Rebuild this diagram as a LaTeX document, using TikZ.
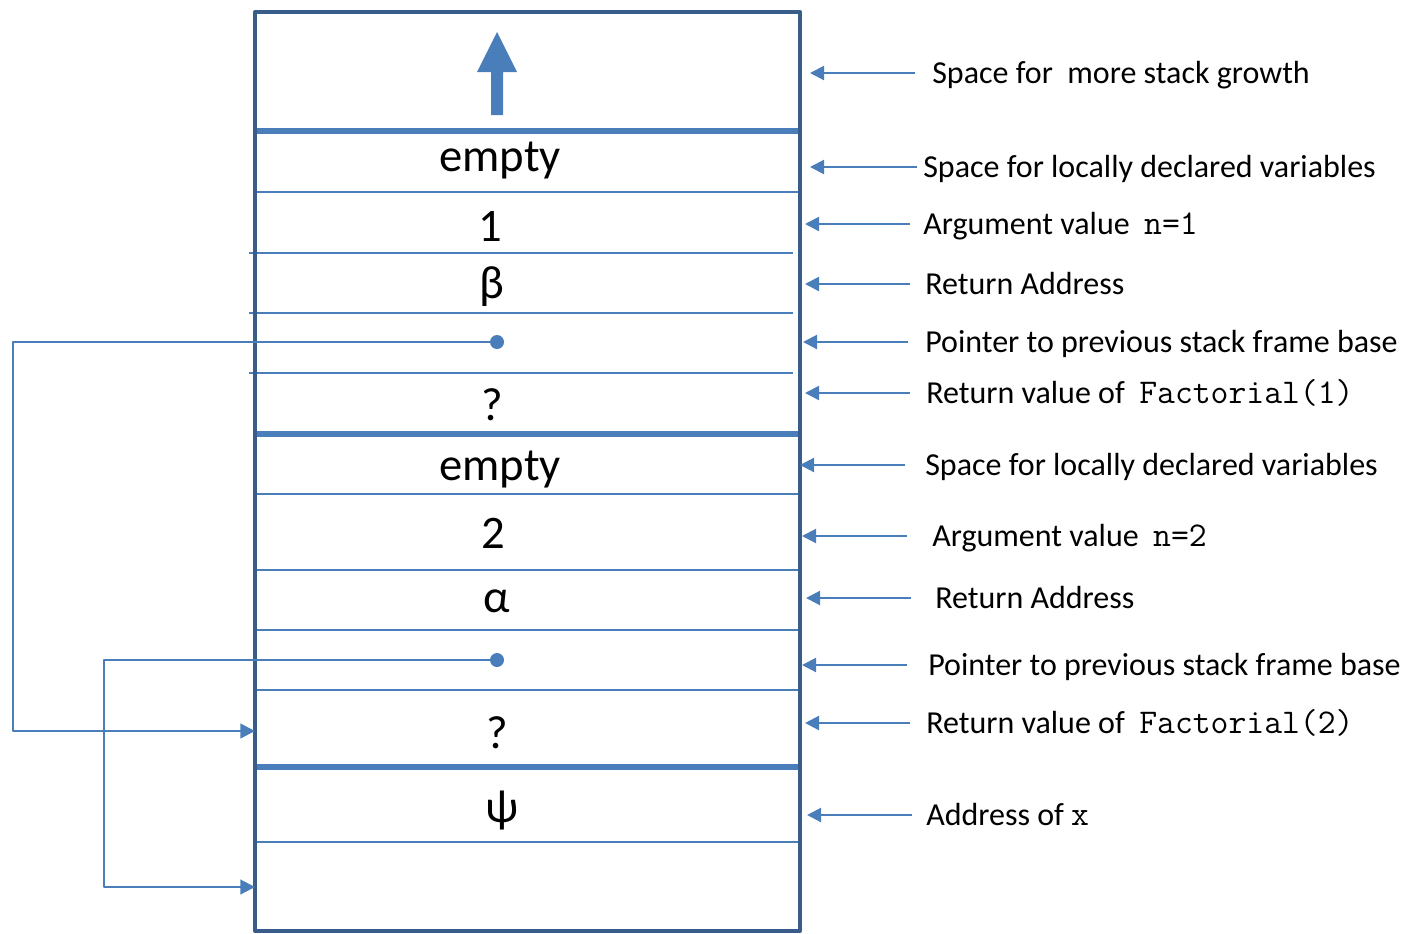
\documentclass[tikz,border=0pt]{standalone}
\usepackage{fontspec}
\setmainfont{Carlito}
\usetikzlibrary{arrows.meta}
\definecolor{khung}{RGB}{56,93,138}
\definecolor{xanh}{RGB}{74,126,187}
\newcommand{\maso}[1]{{\ttfamily\fontsize{26}{28}\selectfont #1}}
\tikzset{
  o/.style={font=\fontsize{35}{40}\selectfont, anchor=base, inner sep=0pt},
  nhan/.style={font=\fontsize{24}{28}\selectfont, anchor=west, inner ysep=0pt, text height=19pt, text depth=4pt},
  mong/.style={xanh, line width=1.6pt},
  day/.style={xanh, line width=4.5pt},
  diem/.style={circle, fill=xanh, inner sep=0pt, minimum size=10.5pt},
  ptr/.style={xanh, line width=1.6pt, -{Triangle[length=11pt,width=11pt]}},
  pil/.style={xanh, line width=1.6pt, -{Triangle[length=10.5pt,width=10.5pt]}}
}
\begin{document}
\begin{tikzpicture}[x=0.75pt, y=-0.75pt, line join=round]
	\useasboundingbox (0,0) rectangle (1418,933);
	% Các ô của ngăn xếp
	\foreach \y in {192,494,570,630,690,842} \draw[mong] (255,\y) -- (800,\y);
	\foreach \y in {253,313,373} \draw[mong] (249,\y) -- (793,\y);
	\foreach \y in {131,434,767} \draw[day] (255,\y) -- (800,\y);
	\draw[khung, line width=3pt] (255,12) rectangle (800,931);
	
	% Mũi tên tăng trưởng
	\fill[xanh] (491,115) -- (491,72) -- (477,72) -- (497,32) -- (517,72) -- (503,72) -- (503,115) -- cycle;
	
	\node[o] (c1) at (500,171) {empty};
	\node[o] (c2) at (490,241) {1};
	\node[o] (c3) at (492,298) {β};
	\node[o] (c4) at (492,420) {?};
	\node[o] (c5) at (500,480) {empty};
	\node[o] (c6) at (493,548) {2};
	\node[o] (c7) at (497,612) {α};
	\node[o] (c8) at (497,748) {?};
	\node[o] (c9) at (502,822) {ψ};
	
	% Con trỏ về khung trước
	\coordinate (r2) at (255,731);
	\coordinate (duoi) at (255,887);
	\draw[ptr] (497,342) -- (13,342) |- (r2);
	\draw[ptr] (497,660) -- (104,660) |- (duoi);
	\node[diem] (p1) at (497,342) {};
	\node[diem] (p2) at (497,660) {};
	
	% Chú thích bên phải
	\foreach \nm/\y/\xa/\xb/\xt/\txt in {
		a1/73/810/915/932/{Space for\ \ more stack growth},
		a2/167/810/917/923/{Space for locally declared variables},
		a3/224/805/910/923/{Argument value\ \ \maso{n=1}},
		a4/284/805/910/925/{Return Address},
		a5/342/803/908/925/{Pointer to previous stack frame base},
		a6/393/805/910/926/{Return value of\ \ \maso{Factorial(1)}},
		a7/465/800/905/925/{Space for locally declared variables},
		a8/536/802/907/932/{Argument value\ \ \maso{n=2}},
		a9/598/806/911/935/{Return Address},
		a10/665/802/907/928/{Pointer to previous stack frame base},
		a11/723/805/910/926/{Return value of\ \ \maso{Factorial(2)}},
		a12/815/807/912/926/{Address of \maso{x}}}{
		\node[nhan, inner xsep={(\xt-\xb)*0.75pt}] (\nm) at (\xb,\y) {\txt};
		\coordinate (\nm-t) at (\xa,\y);
		\draw[pil] (\nm) -- (\nm-t);
	}
\end{tikzpicture}
\end{document}
